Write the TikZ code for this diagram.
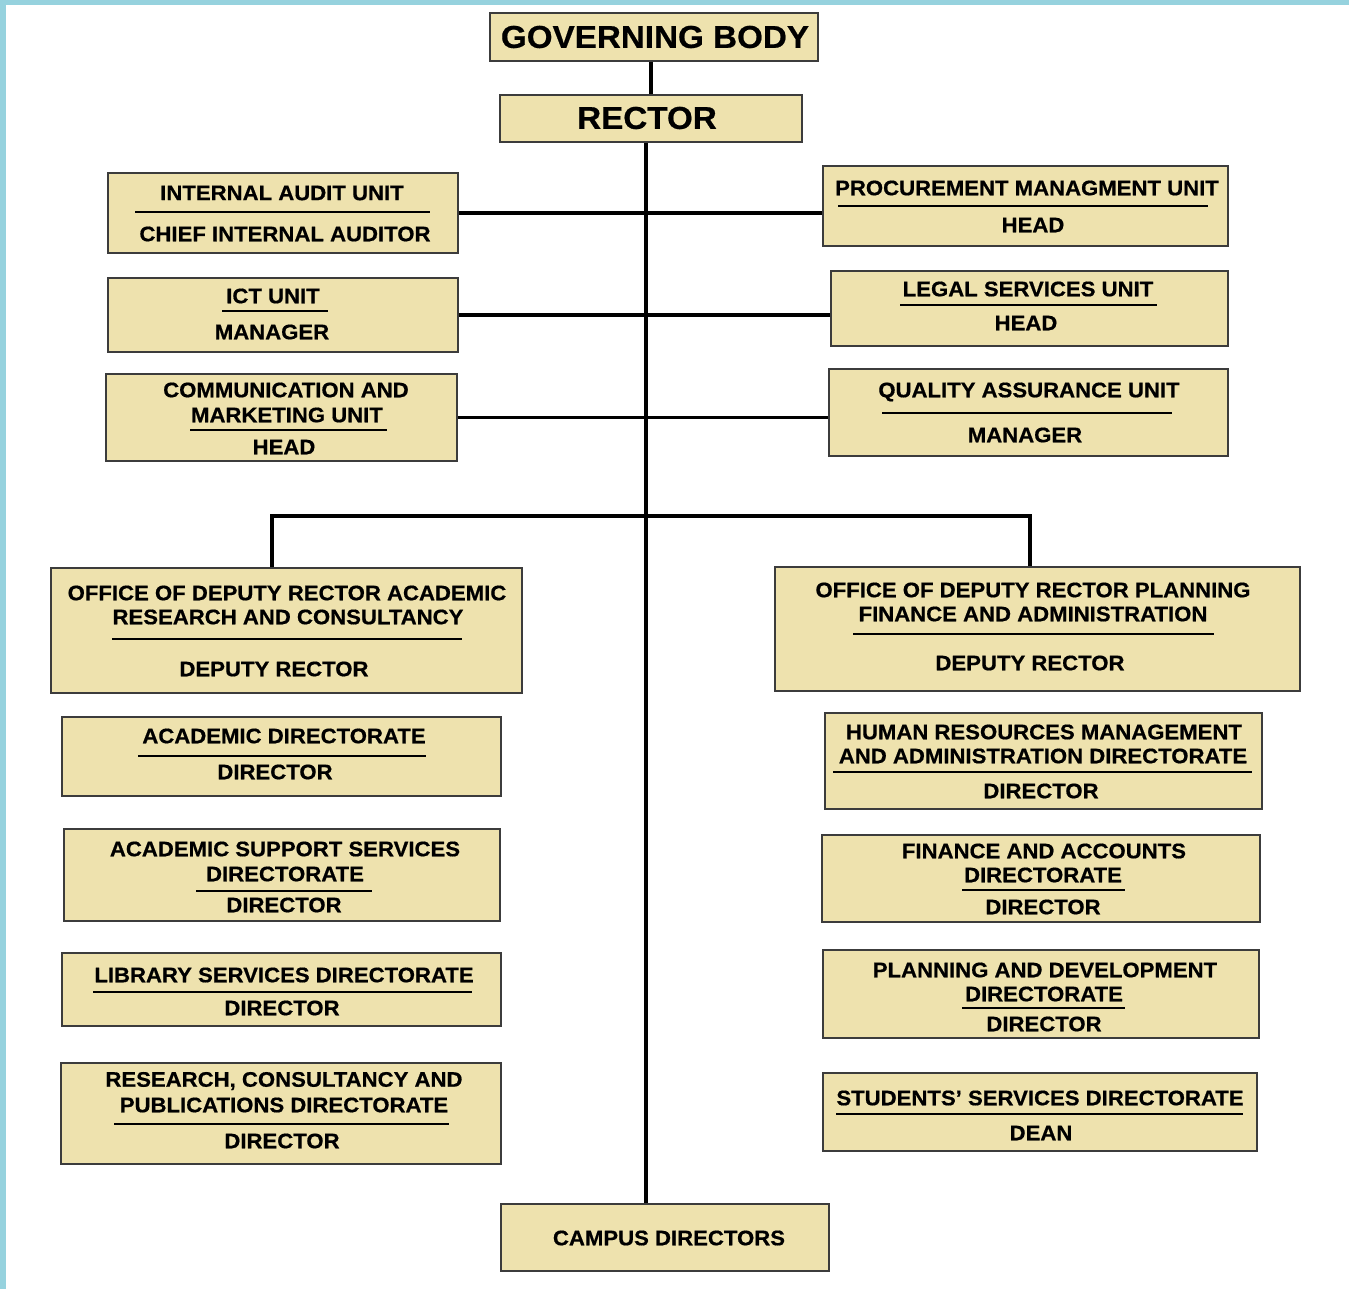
\documentclass[tikz,border=0pt]{standalone}
\usepackage{fontspec}
\setmainfont{Liberation Sans}[FakeStretch=1.05, BoldFeatures={FakeBold=0.6}]
\usepackage{tikz}
\usetikzlibrary{positioning,calc}
\definecolor{unitfill}{RGB}{238,226,174}
\definecolor{unitline}{RGB}{60,60,60}
\definecolor{edgeblue}{RGB}{150,210,222}

\begin{document}
\begin{tikzpicture}[x=0.02cm, y=-0.02cm,
        unitbox/.style={rectangle, fill=unitfill, draw=unitline, line width=0.9pt, inner sep=0pt},
        lbl/.style={inner sep=0pt, anchor=center, font=\bfseries\fontsize{12}{14}\selectfont},
        biglbl/.style={inner sep=0pt, anchor=center, font=\bfseries\fontsize{18}{21}\selectfont},
        rule/.style={line width=0.7pt, black},
        link/.style={line width=2.2pt, black}
      ]
        \useasboundingbox (0,0) rectangle (1349,1289);
        \fill[edgeblue] (0,0) rectangle (1349,1289);
        \fill[white] (6,5) rectangle (1349,1289);

        % top
        \node[unitbox, minimum width=6.56cm, minimum height=0.96cm] (gov) at (654,37) {};
        \node[biglbl] at (655,37) {GOVERNING BODY};
        \node[unitbox, minimum width=6.04cm, minimum height=0.94cm] (rector) at (651,118.5) {};
        \node[biglbl] at (647,118) {RECTOR};

        % units on the left
        \node[unitbox, minimum width=7cm, minimum height=1.6cm] (audit) at (283,213) {};
        \node[lbl] at (282,193) {INTERNAL AUDIT UNIT};
        \draw[rule] (135,212) -- (430,212);
        \node[lbl] at (285,234) {CHIEF INTERNAL AUDITOR};

        \node[unitbox, minimum width=7cm, minimum height=1.48cm] (ict) at (283,315) {};
        \node[lbl] at (273,296) {ICT UNIT};
        \draw[rule] (222,311) -- (328,311);
        \node[lbl] at (272,332) {MANAGER};

        \node[unitbox, minimum width=7.02cm, minimum height=1.74cm] (comm) at (281.5,417.5) {};
        \node[lbl] at (286,390) {COMMUNICATION AND};
        \node[lbl] at (287,415) {MARKETING UNIT};
        \draw[rule] (190,430) -- (387,430);
        \node[lbl] at (284,447) {HEAD};

        % units on the right
        \node[unitbox, minimum width=8.1cm, minimum height=1.6cm] (proc) at (1025.5,206) {};
        \node[lbl] at (1027,188) {PROCUREMENT MANAGMENT UNIT};
        \draw[rule] (838,206) -- (1208,206);
        \node[lbl] at (1033,225) {HEAD};

        \node[unitbox, minimum width=7.94cm, minimum height=1.5cm] (legal) at (1029.5,308.5) {};
        \node[lbl] at (1028,289) {LEGAL SERVICES UNIT};
        \draw[rule] (900,305) -- (1157,305);
        \node[lbl] at (1026,323) {HEAD};

        \node[unitbox, minimum width=7.98cm, minimum height=1.74cm] (qa) at (1028.5,412.5) {};
        \node[lbl] at (1029,392) {QUALITY ASSURANCE UNIT};
        \draw[rule] (882,413) -- (1172,413);
        \node[lbl] at (1025,435) {MANAGER};

        % deputy rectors
        \node[unitbox, minimum width=9.42cm, minimum height=2.5cm] (dra) at (286.5,630.5) {};
        \node[lbl] at (287,593) {OFFICE OF DEPUTY RECTOR ACADEMIC};
        \node[lbl] at (288,617) {RESEARCH AND CONSULTANCY};
        \draw[rule] (112,639) -- (462,639);
        \node[lbl] at (274,669) {DEPUTY RECTOR};

        \node[unitbox, minimum width=10.5cm, minimum height=2.48cm] (drp) at (1037.5,629) {};
        \node[lbl] at (1033,590) {OFFICE OF DEPUTY RECTOR PLANNING};
        \node[lbl] at (1033,614) {FINANCE AND ADMINISTRATION};
        \draw[rule] (853,634) -- (1214,634);
        \node[lbl] at (1030,663) {DEPUTY RECTOR};

        % directorates, academic side
        \node[unitbox, minimum width=8.78cm, minimum height=1.58cm] (acad) at (281.5,756.5) {};
        \node[lbl] at (284,736) {ACADEMIC DIRECTORATE};
        \draw[rule] (138,756) -- (426,756);
        \node[lbl] at (275,772) {DIRECTOR};

        \node[unitbox, minimum width=8.72cm, minimum height=1.84cm] (ass) at (282,875) {};
        \node[lbl] at (285,849) {ACADEMIC SUPPORT SERVICES};
        \node[lbl] at (285,874) {DIRECTORATE};
        \draw[rule] (196,891) -- (372,891);
        \node[lbl] at (284,905) {DIRECTOR};

        \node[unitbox, minimum width=8.78cm, minimum height=1.46cm] (lib) at (281.5,989.5) {};
        \node[lbl] at (284,975) {LIBRARY SERVICES DIRECTORATE};
        \draw[rule] (93,992) -- (472,992);
        \node[lbl] at (282,1008) {DIRECTOR};

        \node[unitbox, minimum width=8.8cm, minimum height=2.02cm] (rcp) at (281,1113.5) {};
        \node[lbl] at (284,1081) {RESEARCH, CONSULTANCY AND};
        \node[lbl] at (284,1105) {PUBLICATIONS DIRECTORATE};
        \draw[rule] (114,1124) -- (449,1124);
        \node[lbl] at (282,1141) {DIRECTOR};

        % directorates, planning side
        \node[unitbox, minimum width=8.74cm, minimum height=1.92cm] (hr) at (1043.5,761) {};
        \node[lbl] at (1044,732) {HUMAN RESOURCES MANAGEMENT};
        \node[lbl] at (1043,756) {AND ADMINISTRATION DIRECTORATE};
        \draw[rule] (833,772) -- (1252,772);
        \node[lbl] at (1041,791) {DIRECTOR};

        \node[unitbox, minimum width=8.76cm, minimum height=1.74cm] (fin) at (1041,878.5) {};
        \node[lbl] at (1044,851) {FINANCE AND ACCOUNTS};
        \node[lbl] at (1043,875) {DIRECTORATE};
        \draw[rule] (962,890) -- (1125,890);
        \node[lbl] at (1043,907) {DIRECTOR};

        \node[unitbox, minimum width=8.72cm, minimum height=1.76cm] (plan) at (1041,994) {};
        \node[lbl] at (1045,970) {PLANNING AND DEVELOPMENT};
        \node[lbl] at (1044,994) {DIRECTORATE};
        \draw[rule] (962,1008) -- (1125,1008);
        \node[lbl] at (1044,1024) {DIRECTOR};

        \node[unitbox, minimum width=8.68cm, minimum height=1.56cm] (stud) at (1040,1112) {};
        \node[lbl] at (1040,1098) {STUDENTS' SERVICES DIRECTORATE};
        \draw[rule] (836,1114) -- (1243,1114);
        \node[lbl] at (1041,1133) {DEAN};

        % campuses
        \node[unitbox, minimum width=6.56cm, minimum height=1.34cm] (campus) at (665,1237.5) {};
        \node[lbl] at (669,1238) {CAMPUS DIRECTORS};

        % connectors
        \coordinate (fork) at (646,516);
        \draw[link] (gov.south -| rector.north) -- (rector.north);
        \draw[link] ([xshift=-0.1cm]rector.south) -- ([xshift=-0.1cm]rector.south |- campus.north);
        \draw[link] (audit.east) -- (audit.east -| proc.west);
        \draw[link] (ict.east) -- (ict.east -| legal.west);
        \draw[link] (comm.east) -- (comm.east -| qa.west);
        \draw[link] ([xshift=-0.29cm]dra.north) |- (fork) -| ([xshift=-0.15cm]drp.north);
      \end{tikzpicture}
\end{document}
